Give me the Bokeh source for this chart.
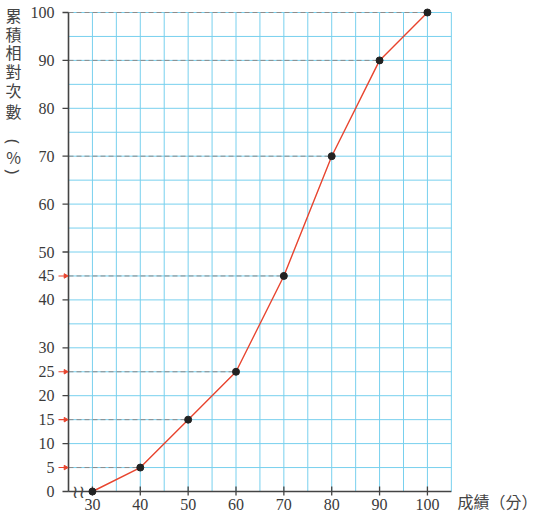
from bokeh.plotting import figure
from bokeh.models import Range1d
from bokeh.embed import file_html
from bokeh.resources import INLINE
from bokeh.core.properties import value
import math

# ---- data ----
scores = [30, 40, 50, 60, 70, 80, 90, 100]
cum_pct = [0, 5, 15, 25, 45, 70, 90, 100]
y_labeled = [0, 5, 10, 15, 20, 25, 30, 40, 45, 50, 60, 70, 80, 90, 100]
y_black_ticks = [0, 10, 20, 30, 40, 50, 60, 70, 80, 90, 100]
y_arrow_ticks = [5, 15, 25, 45]
x_ticks = [30, 40, 50, 60, 70, 80, 90, 100]
x_grid = list(range(25, 106, 5))
y_grid = list(range(0, 101, 5))
guide_x = [40, 50, 60, 70, 80, 90, 100]
guide_y = [5, 15, 25, 45, 70, 90, 100]
y_title_chars = ["累", "積", "相", "對", "次", "數", "%"]
y_title_parens = ["(", ")"]
x_title = "成績（分）"

# ---- layout (pixels -> data scale) ----
W, H = 538, 519
X0, X1, Y0, Y1 = 25, 105, 0, 100
AX_LEFT_PX, AX_BOTTOM_PX = 68, 491
SX = (428 - 93) / 70.0
SY = (491 - 12) / 100.0


def px_x(px):
    return X0 + (px - AX_LEFT_PX) / SX


def px_y(py):
    return Y0 + (AX_BOTTOM_PX - py) / SY


p = figure(width=W, height=H, output_backend="svg", toolbar_location=None,
           x_range=Range1d(px_x(0), px_x(W)), y_range=Range1d(px_y(H), px_y(0)),
           x_axis_location=None, y_axis_location=None, min_border=0)
p.outline_line_color = None
p.xgrid.visible = False
p.ygrid.visible = False
p.background_fill_color = "white"
p.border_fill_color = "white"

grid_col = "#78d0ee"
p.segment(x0=x_grid, y0=[Y0] * len(x_grid), x1=x_grid, y1=[Y1] * len(x_grid),
          line_color=grid_col, line_width=1)
p.segment(x0=[X0] * len(y_grid), y0=y_grid, x1=[X1] * len(y_grid), y1=y_grid,
          line_color=grid_col, line_width=1)

# dashed guides from axis to points
p.segment(x0=[X0] * len(guide_x), y0=guide_y, x1=guide_x, y1=guide_y,
          line_color="#8c8c8c", line_width=1, line_dash="5 3")

# axes
axis_col = "#444444"
p.segment(x0=[X0], y0=[Y0], x1=[X1], y1=[Y0], line_color=axis_col, line_width=1.6)
p.segment(x0=[X0], y0=[Y0], x1=[X0], y1=[Y1], line_color=axis_col, line_width=1.6)
# x ticks (in and out)
p.segment(x0=x_ticks, y0=[px_y(AX_BOTTOM_PX + 4)] * len(x_ticks),
          x1=x_ticks, y1=[px_y(AX_BOTTOM_PX - 5)] * len(x_ticks),
          line_color=axis_col, line_width=1.3)
# y ticks (out)
p.segment(x0=[px_x(AX_LEFT_PX - 6)] * len(y_black_ticks), y0=y_black_ticks,
          x1=[X0] * len(y_black_ticks), y1=y_black_ticks,
          line_color=axis_col, line_width=1.3)
# red arrows
red = "#e8442e"
p.segment(x0=[px_x(AX_LEFT_PX - 10)] * len(y_arrow_ticks), y0=y_arrow_ticks,
          x1=[px_x(AX_LEFT_PX - 3)] * len(y_arrow_ticks), y1=y_arrow_ticks,
          line_color=red, line_width=1.1)
p.scatter(x=[px_x(AX_LEFT_PX - 3)] * len(y_arrow_ticks), y=y_arrow_ticks,
          marker="triangle", size=4.5, angle=-math.pi / 2,
          fill_color=red, line_color=red)

serif = value("Liberation Serif")
p.text(x=[px_x(AX_LEFT_PX - 14)] * len(y_labeled), y=y_labeled,
       text=[str(v) for v in y_labeled], text_font=serif, text_font_size="16px",
       text_color="#3a3a3a", text_align="right", text_baseline="middle")
p.text(x=x_ticks, y=[px_y(AX_BOTTOM_PX + 7)] * len(x_ticks),
       text=[str(v) for v in x_ticks], text_font=serif, text_font_size="16px",
       text_color="#3a3a3a", text_align="center", text_baseline="top")

# axis break mark
p.text(x=[px_x(78)], y=[Y0], text=["≀≀"], text_font=value("DejaVu Sans"),
       text_font_size="18px", text_color=axis_col, text_align="center",
       text_baseline="middle")

# line and points
p.line(scores, cum_pct, line_color=red, line_width=1.4)
p.scatter(scores, cum_pct, size=7, fill_color="#222222", line_color="#222222")

# titles
cjk = value("Noto Sans CJK TC")
title_py = [14, 33, 51, 70, 89, 110, 156]
p.text(x=[px_x(13)] * len(y_title_chars), y=[px_y(v) for v in title_py],
       text=y_title_chars, text_font=cjk, text_font_size="16px",
       text_color="#444444", text_align="center", text_baseline="middle")
paren_py = [141, 171]
p.text(x=[px_x(13)] * 2, y=[px_y(v) for v in paren_py], text=y_title_parens,
       text_font=value("Noto Sans"), text_font_size="17px", angle=-math.pi / 2,
       text_color="#444444", text_align="center", text_baseline="middle")
p.text(x=[px_x(457)], y=[px_y(500)], text=[x_title], text_font=cjk,
       text_font_size="16px", text_color="#444444", text_align="left",
       text_baseline="middle")

open("out.html", "w").write(file_html(p, INLINE))
